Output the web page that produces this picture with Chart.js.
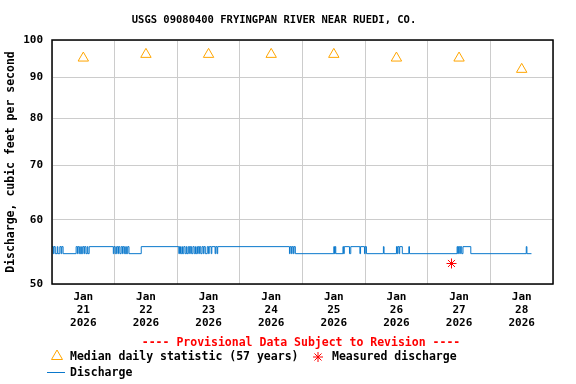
<!DOCTYPE html>
<html>
<head>
<meta charset="utf-8">
<script src="https://cdn.jsdelivr.net/npm/chart.js@4.4.1/dist/chart.umd.min.js"></script>
<style>
  html, body { margin: 0; padding: 0; background: #fff; }
  #wrap { width: 576px; height: 384px; }
</style>
</head>
<body>
<div id="wrap"><canvas id="flow" width="576" height="384"></canvas></div>
<script>
// Hours are counted from Jan 21 2026 00:00
const dayLabels = ['21', '22', '23', '24', '25', '26', '27', '28'];
const yTicks = [50, 60, 70, 80, 90, 100];

// median daily statistic, one per day (plotted at noon)
const medianCfs = [95, 96, 96, 96, 96, 95, 95, 92];

// measured discharge
const measuredHours = [153.1];
const measuredCfs = [53.0];

// 15-minute discharge, stored as step breakpoints (value holds until next time)
const dischargeHours = [
  0, 0.5, 0.75, 1.25, 2.0, 2.25, 3.0, 3.5, 3.75, 4.25,
  9.25, 9.75, 10.0, 10.5, 11.0, 11.25, 11.75, 12.25, 12.5, 13.0, 13.5, 13.75, 14.25,
  23.5, 23.75, 24.25, 24.75, 25.25, 25.5, 26.0, 26.5, 27.0, 27.25, 27.75, 28.25, 28.5, 29.0, 29.5,
  34.2,
  48.6, 48.85, 49.25, 49.75, 50.0, 50.5, 51.0, 51.5, 51.75, 52.25, 52.75, 53.0, 53.5, 54.0,
  54.5, 55.0, 55.25, 55.75, 56.25, 56.5, 57.0, 57.5, 58.0, 58.25, 58.75, 59.5, 60.0, 60.25,
  61.0, 61.25, 62.5, 62.75, 63.25, 63.5,
  91.0, 91.25, 91.75, 92.0, 92.5, 92.75, 93.25,
  108.0, 108.25, 108.5, 108.75,
  111.5, 111.75, 112.0, 114.0, 114.5, 118.0, 118.25, 119.75, 120.0, 120.5,
  127.0, 127.25,
  132.0, 132.25, 132.5, 133.0, 133.25, 134.25,
  136.75, 137.0,
  155.25, 155.5, 155.75, 156.25, 156.5, 157.0, 157.5, 160.5,
  181.75, 182.0, 183.75
];
const dischargeCfs = [
  55.6, 54.5, 55.6, 54.5, 55.6, 54.5, 55.6, 54.5, 55.6, 54.5,
  55.6, 54.5, 55.6, 54.5, 55.6, 54.5, 55.6, 54.5, 55.6, 54.5, 55.6, 54.5, 55.6,
  54.5, 55.6, 54.5, 55.6, 54.5, 55.6, 54.5, 55.6, 54.5, 55.6, 54.5, 55.6, 54.5, 55.6, 54.5,
  55.6,
  54.5, 55.6, 54.5, 55.6, 54.5, 55.6, 54.5, 55.6, 54.5, 55.6, 54.5, 55.6, 54.5, 55.6,
  54.5, 55.6, 54.5, 55.6, 54.5, 55.6, 54.5, 55.6, 54.5, 55.6, 54.5, 55.6, 54.5, 55.6,
  54.5, 55.6, 54.5, 55.6, 54.5, 55.6,
  54.5, 55.6, 54.5, 55.6, 54.5, 55.6, 54.5,
  55.6, 54.5, 55.6, 54.5,
  55.6, 54.5, 55.6, 54.5, 55.6, 54.5, 55.6, 54.5, 55.6, 54.5,
  55.6, 54.5,
  55.6, 54.5, 55.6, 54.5, 55.6, 54.5,
  55.6, 54.5,
  55.6, 54.5, 55.6, 54.5, 55.6, 54.5, 55.6, 54.5,
  55.6, 54.5, 54.5
];

const colors = {
  flow: '#0a78cc',
  median: '#ffa500',
  measured: '#ff0000',
  grid: '#cccccc',
};

const mono = "'DejaVu Sans Mono', 'Liberation Mono', monospace";

// title, frame, provisional note and legend
const decorations = {
  id: 'decorations',
  afterDraw(chart) {
    const { ctx, chartArea: a } = chart;
    ctx.save();
    ctx.strokeStyle = '#000';
    ctx.lineWidth = 1.5;
    ctx.strokeRect(a.left, a.top, a.right - a.left, a.bottom - a.top);

    ctx.fillStyle = '#000';
    ctx.textBaseline = 'middle';
    ctx.textAlign = 'center';
    ctx.font = `bold 10.5px ${mono}`;
    ctx.fillText('USGS 09080400 FRYINGPAN RIVER NEAR RUEDI, CO.', 274, 20);

    ctx.font = `bold 11.5px ${mono}`;
    ctx.fillStyle = colors.measured;
    ctx.fillText('---- Provisional Data Subject to Revision ----', 301, 343);

    ctx.textAlign = 'left';
    ctx.fillStyle = '#000';
    ctx.fillText('Median daily statistic (57 years)', 70, 357);
    ctx.fillText('Measured discharge', 332, 357);
    ctx.fillText('Discharge', 70, 373);

    // legend symbols
    ctx.lineWidth = 1;
    ctx.strokeStyle = colors.median;
    ctx.beginPath();
    ctx.moveTo(57, 350);
    ctx.lineTo(62.5, 359.5);
    ctx.lineTo(51.5, 359.5);
    ctx.closePath();
    ctx.stroke();

    ctx.strokeStyle = colors.measured;
    ctx.beginPath();
    for (let k = 0; k < 4; k++) {
      const ang = k * Math.PI / 4;
      ctx.moveTo(318 - 5 * Math.cos(ang), 357 - 5 * Math.sin(ang));
      ctx.lineTo(318 + 5 * Math.cos(ang), 357 + 5 * Math.sin(ang));
    }
    ctx.stroke();

    ctx.strokeStyle = colors.flow;
    ctx.beginPath();
    ctx.moveTo(47, 372.5);
    ctx.lineTo(65, 372.5);
    ctx.stroke();
    ctx.restore();
  }
};

new Chart(document.getElementById('flow'), {
  type: 'line',
  data: {
    datasets: [
      {
        label: 'Discharge',
        data: dischargeHours.map((h, i) => ({ x: h, y: dischargeCfs[i] })),
        borderColor: colors.flow,
        borderWidth: 1,
        pointRadius: 0,
        stepped: true,
        fill: false,
        xAxisID: 'x',
      },
      {
        label: 'Median daily statistic (57 years)',
        data: medianCfs.map((v, i) => ({ x: i * 24 + 12, y: v })),
        showLine: false,
        pointStyle: 'triangle',
        pointRadius: 6,
        borderWidth: 1,
        borderColor: colors.median,
        backgroundColor: 'rgba(0,0,0,0)',
        xAxisID: 'x',
      },
      {
        label: 'Measured discharge',
        data: measuredHours.map((h, i) => ({ x: h, y: measuredCfs[i] })),
        showLine: false,
        pointStyle: 'star',
        pointRadius: 5,
        borderWidth: 1,
        borderColor: colors.measured,
        backgroundColor: colors.measured,
        xAxisID: 'x',
      },
    ]
  },
  options: {
    responsive: false,
    animation: false,
    layout: { padding: { top: 40, right: 23, left: 0, bottom: 0 } },
    plugins: {
      legend: { display: false },
      tooltip: { enabled: false },
    },
    scales: {
      x: {
        type: 'linear',
        position: 'bottom',
        min: 0,
        max: dayLabels.length * 24,
        afterBuildTicks: (scale) => {
          scale.ticks = dayLabels.concat(['']).map((_, i) => ({ value: i * 24 }));
        },
        afterFit: (scale) => { scale.height = 0; },
        grid: { color: colors.grid, drawTicks: false },
        border: { display: false },
        ticks: { display: false },
      },
      x2: {
        type: 'linear',
        position: 'bottom',
        min: 0,
        max: dayLabels.length * 24,
        afterBuildTicks: (scale) => {
          scale.ticks = dayLabels.map((_, i) => ({ value: i * 24 + 12 }));
        },
        afterFit: (scale) => { scale.height = 100; },
        grid: { display: false, drawTicks: false },
        border: { display: false },
        ticks: {
          autoSkip: false,
          maxRotation: 0,
          padding: 7,
          color: '#000',
          font: { family: mono, size: 11, weight: 'bold', lineHeight: 1.18 },
          callback: (value, index) => ['Jan', dayLabels[index], '2026'],
        },
      },
      y: {
        type: 'logarithmic',
        min: 50,
        max: 100,
        afterBuildTicks: (scale) => {
          scale.ticks = yTicks.map(v => ({ value: v }));
        },
        afterFit: (scale) => { scale.width = 52; },
        grid: { color: colors.grid, drawTicks: false },
        border: { display: false },
        ticks: {
          padding: 9,
          color: '#000',
          font: { family: mono, size: 11, weight: 'bold' },
          callback: (value) => String(value),
        },
        title: {
          display: true,
          text: 'Discharge, cubic feet per second',
          color: '#000',
          padding: { top: 4, bottom: 0 },
          font: { family: mono, size: 11.5, weight: 'bold' },
        },
      },
    },
  },
  plugins: [decorations],
});
</script>
</body>
</html>
